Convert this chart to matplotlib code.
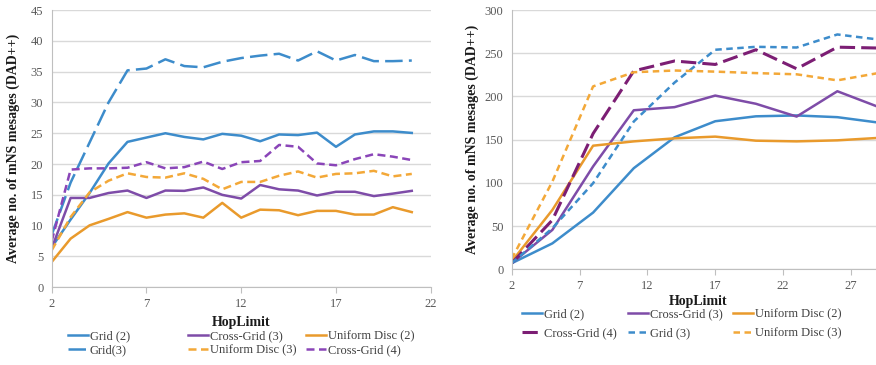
import matplotlib
matplotlib.use("Agg")
import matplotlib.pyplot as plt

plt.rcParams['font.family'] = ['Liberation Serif', 'DejaVu Serif']

# ---- left chart data (HopLimit 2..21) ----
hop_left = list(range(2, 22))
grid2_l = [6.5, 11.0, 15.3, 20.1, 23.6, 24.3, 25.0, 24.4, 24.0, 24.9,
           24.6, 23.7, 24.8, 24.7, 25.1, 22.8, 24.8, 25.3, 25.3, 25.05]
cross3_l = [6.3, 14.5, 14.5, 15.3, 15.7, 14.5, 15.7, 15.65, 16.2, 15.0,
            14.4, 16.6, 15.9, 15.7, 14.9, 15.5, 15.5, 14.8, 15.2, 15.65]
unif2_l = [4.1, 7.9, 10.05, 11.1, 12.2, 11.3, 11.8, 12.0, 11.3, 13.7,
           11.3, 12.6, 12.5, 11.7, 12.4, 12.4, 11.8, 11.8, 13.0, 12.2]
grid3_l = [8.5, 17.0, 23.5, 30.0, 35.2, 35.5, 37.0, 35.9, 35.7, 36.6,
           37.2, 37.6, 37.9, 36.8, 38.3, 36.8, 37.7, 36.7, 36.7, 36.8]
unif3_l = [6.0, 11.4, 15.4, 17.3, 18.5, 17.9, 17.8, 18.5, 17.6, 15.9,
           17.1, 17.1, 18.1, 18.8, 17.8, 18.4, 18.5, 18.9, 18.0, 18.4]
cross4_l = [7.5, 19.1, 19.3, 19.3, 19.4, 20.3, 19.3, 19.5, 20.4, 19.2,
            20.3, 20.5, 23.1, 22.8, 20.1, 19.8, 20.8, 21.6, 21.2, 20.65]

# ---- right chart data (HopLimit 2..29 step 3) ----
hop_right = [2, 5, 8, 11, 14, 17, 20, 23, 26, 29]
grid2_r = [7, 30, 65.6, 117, 152.7, 171.3, 177, 178, 176, 169.8]
cross3_r = [7, 45.6, 119, 184, 187.6, 201, 191.5, 176.7, 206, 188]
unif2_r = [8.9, 68.7, 143, 148, 151.5, 153.5, 148.8, 148, 149.2, 152]
cross4_r = [7, 57, 157, 229.5, 241, 237, 254, 232, 257, 256]
grid3_r = [7, 47.5, 99.6, 171, 216, 254, 257.4, 256.6, 271.7, 265.9]
unif3_r = [12, 101.5, 211.6, 228, 230, 228.7, 227, 225.6, 218.6, 227]

BLUE = '#3d8ccb'
PURPLE = '#7e4ca8'
ORANGE = '#e99a2c'
DPURPLE = '#7c1e74'
LPURPLE = '#8a45b8'
LORANGE = '#f3a838'

LW = 1.8
ylabel = 'Average no. of mNS mesages (DAD++)'


def style_axes(ax):
    ax.grid(axis='y', color='#d9d9d9', lw=1)
    ax.set_axisbelow(True)
    for s in ['top', 'right']:
        ax.spines[s].set_visible(False)
    ax.spines['left'].set_color('#bfbfbf')
    ax.spines['bottom'].set_color('#bfbfbf')
    ax.tick_params(axis='y', length=0, labelsize=9, labelcolor='#595959', pad=6)
    ax.tick_params(axis='x', length=4, color='#bfbfbf', labelsize=9,
                   labelcolor='#595959', pad=4)
    ax.set_ylabel(ylabel, fontsize=10, fontweight='bold', color='#1a1a1a')


def column_legends(handles, xs, y, spacing):
    # one legend per column so the columns sit at fixed positions
    for i, x in enumerate(xs):
        hs = handles[2 * i:2 * i + 2]
        fig.legend(handles=hs, labels=[h.get_label() for h in hs],
                   loc='center left', bbox_to_anchor=(x, y), frameon=False,
                   fontsize=9, handlelength=1.6, handletextpad=0.15,
                   labelspacing=spacing, borderpad=0, borderaxespad=0,
                   labelcolor='#404040')


fig = plt.figure(figsize=(8.76, 3.65), dpi=100)

# left panel
ax1 = fig.add_axes([0.059, 0.2129, 0.4327, 0.7597])
h1 = ax1.plot(hop_left, grid2_l, color=BLUE, lw=LW, label='Grid (2)')
h2 = ax1.plot(hop_left, cross3_l, color=PURPLE, lw=LW, label='Cross-Grid (3)')
h3 = ax1.plot(hop_left, unif2_l, color=ORANGE, lw=LW, label='Uniform Disc (2)')
h4 = ax1.plot(hop_left, grid3_l, color=BLUE, lw=LW, ls=(0, (7, 2.5)), label='Grid(3)')
h5 = ax1.plot(hop_left, unif3_l, color=LORANGE, lw=LW, ls=(0, (3.2, 1.8)), label='Uniform Disc (3)')
h6 = ax1.plot(hop_left, cross4_l, color=LPURPLE, lw=LW, ls=(0, (3.2, 1.8)), label='Cross-Grid (4)')
ax1.set_xlim(2, 22)
ax1.set_ylim(0, 45)
ax1.set_xticks([2, 7, 12, 17, 22])
ax1.set_yticks(range(0, 46, 5))
style_axes(ax1)
ax1.yaxis.set_label_coords(-0.084, 0.5)
ax1.set_xlabel('HopLimit', fontsize=10, fontweight='bold', color='#1a1a1a', labelpad=4)

column_legends([h1[0], h4[0], h2[0], h5[0], h3[0], h6[0]],
               [0.0776, 0.2146, 0.3493], 0.0592, 0.2)

# right panel
ax2 = fig.add_axes([0.5841, 0.2622, 0.426, 0.7104])
r1 = ax2.plot(hop_right, grid2_r, color=BLUE, lw=LW, label='Grid (2)')
r2 = ax2.plot(hop_right, cross3_r, color=PURPLE, lw=LW, label='Cross-Grid (3)')
r3 = ax2.plot(hop_right, unif2_r, color=ORANGE, lw=LW, label='Uniform Disc (2)')
r4 = ax2.plot(hop_right, cross4_r, color=DPURPLE, lw=2.2, ls=(0, (5, 2)), label='Cross-Grid (4)')
r5 = ax2.plot(hop_right, grid3_r, color=BLUE, lw=LW, ls=(0, (2.6, 1.8)), label='Grid (3)')
r6 = ax2.plot(hop_right, unif3_r, color=LORANGE, lw=LW, ls=(0, (2.6, 1.8)), label='Uniform Disc (3)')
ax2.set_xlim(2, 29.5)
ax2.set_ylim(0, 300)
ax2.set_xticks([2, 7, 12, 17, 22, 27])
ax2.set_yticks(range(0, 301, 50))
style_axes(ax2)
ax2.yaxis.set_label_coords(-0.088, 0.5)
ax2.set_xlabel('HopLimit', fontsize=10, fontweight='bold', color='#1a1a1a', labelpad=2)

column_legends([r1[0], r4[0], r2[0], r5[0], r3[0], r6[0]],
               [0.5955, 0.7169, 0.8368], 0.1129, 0.5)

fig.savefig('out.png', dpi=100)
